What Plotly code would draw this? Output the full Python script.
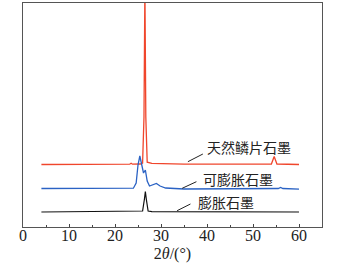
import plotly.graph_objects as go

# Natural flake graphite (red)
red_x = [4, 20, 23.2, 23.5, 23.8, 25.5, 26.0, 26.3, 26.5, 26.7, 27.0, 28, 35, 54.0, 54.4, 54.6, 54.8, 55.2, 60]
red_y = [62.5, 62.5, 62.8, 63.8, 62.8, 63.0, 64.0, 110, 240, 110, 64.8, 63.6, 62.8, 63.0, 68, 70.5, 68, 63.0, 62.5]

# Expandable graphite (blue)
blue_x = [4, 15, 24, 24.6, 25.0, 25.4, 25.8, 26.2, 26.6, 27.0, 27.5, 28.3, 29.0, 29.8, 31, 35, 50, 55.5, 56, 56.5, 60]
blue_y = [38.5, 38.3, 38.8, 44, 62, 71, 62, 54, 57, 46, 41, 42, 43.5, 41, 39, 38, 38, 38.5, 39.5, 38.5, 37.8]

# Expanded graphite (black)
black_x = [4, 25, 26.0, 26.4, 26.6, 26.8, 27.2, 28, 54.4, 54.6, 54.8, 60]
black_y = [15, 15.3, 16, 28, 35.5, 28, 16, 15.3, 15, 15.6, 15, 15]

labels = ["天然鳞片石墨", "可膨胀石墨", "膨胀石墨"]
label_x = [39.6, 38.6, 37.7]
label_y = [80.3, 47.7, 25.3]
leader_x0 = [35.85, 34.6, 33.5]
leader_y0 = [65.3, 38.7, 16.3]
leader_x1 = [39.1, 37.7, 36.4]
leader_y1 = [73, 45.3, 23]

x_ticks = [0, 10, 20, 30, 40, 50, 60]

SERIF = "Times New Roman"

fig = go.Figure()
fig.add_trace(go.Scatter(x=red_x, y=red_y, mode="lines", line=dict(color="#f0462c", width=1.3)))
fig.add_trace(go.Scatter(x=blue_x, y=blue_y, mode="lines", line=dict(color="#2a62c4", width=1.3)))
fig.add_trace(go.Scatter(x=black_x, y=black_y, mode="lines", line=dict(color="#111111", width=1.2)))

for t, lx, ly in zip(labels, label_x, label_y):
    fig.add_annotation(x=lx, y=ly, text=t, showarrow=False, xanchor="left", yanchor="middle",
                       font=dict(family="Noto Sans CJK SC", size=14, color="#222222"))
for x0, y0, x1, y1 in zip(leader_x0, leader_y0, leader_x1, leader_y1):
    fig.add_shape(type="line", x0=x0, y0=y0, x1=x1, y1=y1, xref="x", yref="y",
                  line=dict(color="#222222", width=1))

fig.update_layout(
    width=344, height=274,
    margin=dict(l=23, r=22, t=3, b=47),
    paper_bgcolor="white", plot_bgcolor="white",
    showlegend=False,
    font=dict(family=SERIF, size=15, color="#222222"),
)
fig.update_xaxes(
    range=[0, 65], tickvals=x_ticks, ticks="inside", ticklen=3, tickcolor="#444",
    minor=dict(tickvals=[5, 15, 25, 35, 45, 55], ticks="inside", ticklen=2, tickcolor="#444"),
    showline=True, linecolor="#555", linewidth=1, mirror=True, showgrid=False, zeroline=False,
    tickfont=dict(family=SERIF, size=16), ticklabelstandoff=-6,
    title=dict(text="2<i>θ</i>/(°)", font=dict(family=SERIF, size=16), standoff=4),
    automargin=False,
)
fig.update_yaxes(
    range=[0, 224], showticklabels=False, ticks="", showline=True, linecolor="#555",
    linewidth=1, mirror=True, showgrid=False, zeroline=False, automargin=False,
)

fig.write_html("out.html", config={"displayModeBar": False},
               post_script="document.body.style.margin='0px';")
